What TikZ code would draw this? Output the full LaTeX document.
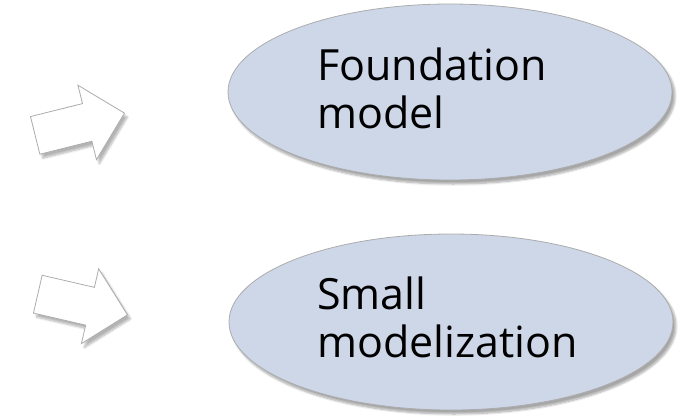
\documentclass[tikz,border=0pt]{standalone}
\usepackage{fontspec}
\setmainfont{Open Sans}
\usepackage{tikz}
\usetikzlibrary{positioning,shapes.geometric,shapes.arrows,shadows.blur}
\definecolor{bubble}{RGB}{205,215,232}
\definecolor{rim}{RGB}{172,172,172}
\tikzset{
  bubble/.style={
    ellipse, draw=rim, line width=0.8pt, fill=bubble,
    minimum width=444pt, minimum height=176pt,
    blur shadow={shadow xshift=3pt, shadow yshift=-4pt, shadow blur steps=8, shadow opacity=35}
  },
  pointer/.style={
    single arrow, draw=rim, line width=0.8pt, fill=white,
    minimum height=92pt, single arrow head extend=19pt,
    inner xsep=0pt, inner ysep=19pt, anchor=tip,
    blur shadow={shadow xshift=3pt, shadow yshift=-4pt, shadow blur steps=6, shadow opacity=30}
  },
  label/.style={
    align=left, inner sep=0pt, anchor=base west,
    font=\fontsize{43}{47.5}\selectfont
  }
}

\begin{document}
\begin{tikzpicture}[x=1pt,y=-1pt]
      \useasboundingbox (0,0) rectangle (688,415);

      \node [bubble] (FoundBg) at (450,92) {};
      \node [label] (Found) at (317,128) {Foundation\\model};

      \node [bubble] (SmallBg) at (451,322) {};
      \node [label] (Small) at (317,357) {Small\\modelization};

      \node [pointer, rotate=14] (Arr1) at (125,113) {};
      \node [pointer, rotate=-13] (Arr2) at (128,315) {};
    \end{tikzpicture}
\end{document}
